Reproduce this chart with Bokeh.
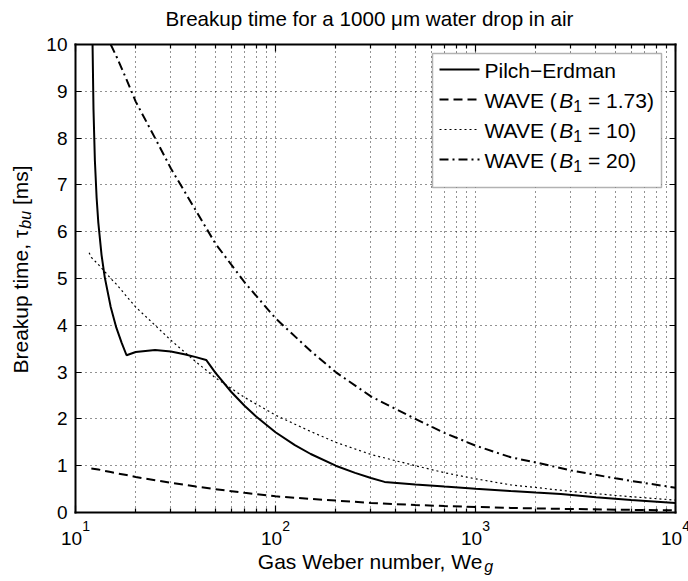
import math
from bokeh.plotting import figure
from bokeh.models import (FixedTicker, LogAxis, LinearAxis, Label, BoxAnnotation,
                          CustomJSTickFormatter, Range1d)
from bokeh.embed import file_html
from bokeh.resources import INLINE

FONT = "Liberation Sans"

# ---------------- texts ----------------
TITLE = "Breakup time for a 1000 μm water drop in air"
X_LABEL = "Gas Weber number, We"
X_LABEL_SUB = "g"
Y_LABEL_MAIN = "Breakup time, τ"
Y_LABEL_SUB = "bu"
Y_LABEL_END = "[ms]"

# ---------------- ticks ----------------
x_major_ticks = [10, 100, 1000, 10000]
x_tick_base = "10"
x_tick_exponents = ["1", "2", "3", "4"]
x_minor_ticks = [20, 30, 40, 50, 60, 70, 80, 90,
                 200, 300, 400, 500, 600, 700, 800, 900,
                 2000, 3000, 4000, 5000, 6000, 7000, 8000, 9000]
y_ticks = [0, 1, 2, 3, 4, 5, 6, 7, 8, 9, 10]

# ---------------- data ----------------
# Pilch-Erdman correlation
we_pe = [12.17, 12.3, 12.5, 12.75, 13, 13.5, 14, 15, 16, 17, 18, 20, 25, 30,
         35, 40, 45, 50, 60, 70, 80, 100, 125, 150, 200, 250, 300, 351, 500, 700,
         1000, 1500, 2000, 2670, 4000, 6000, 10000]
t_pe = [10.0, 8.62, 7.52, 6.73, 6.20, 5.50, 5.03, 4.39, 3.95, 3.63, 3.36, 3.43,
        3.47, 3.44, 3.38, 3.32, 3.26, 2.99, 2.58, 2.28, 2.05, 1.715, 1.44, 1.25, 1.00,
        0.846, 0.737, 0.654, 0.60, 0.553, 0.506, 0.458, 0.426, 0.397, 0.324, 0.265, 0.205]

# WAVE model, B1 = 1.73
we_b173 = [12, 13, 14, 15, 16, 18, 20, 25, 30, 40, 50, 70, 100, 150, 200, 300, 500,
           700, 1000, 1500, 2000, 3000, 5000, 7000, 10000]
t_b173 = [0.94, 0.92, 0.89, 0.865, 0.84, 0.80, 0.76, 0.69, 0.635, 0.555, 0.50, 0.42,
          0.345, 0.29, 0.255, 0.205, 0.16, 0.138, 0.118, 0.098, 0.088, 0.075, 0.061,
          0.053, 0.045]
# WAVE model, B1 = 10
we_b10 = [11.7, 12, 13, 14, 15, 16, 18, 20, 25, 30, 40, 50, 70, 100, 150, 200, 300, 500,
          700, 1000, 1500, 2000, 3000, 5000, 7000, 10000]
t_b10 = [5.55, 5.45, 5.3, 5.15, 5.0, 4.88, 4.62, 4.39, 4.0, 3.68, 3.22, 2.88, 2.46, 2.08,
         1.73, 1.5, 1.24, 1.0, 0.85, 0.72, 0.59, 0.535, 0.45, 0.365, 0.315, 0.265]
# WAVE model, B1 = 20
we_b20 = [15, 16, 18, 20, 25, 30, 40, 50, 70, 100, 150, 200, 300, 500,
          700, 1000, 1500, 2000, 3000, 5000, 7000, 10000]
t_b20 = [10.0, 9.75, 9.25, 8.78, 8.0, 7.35, 6.45, 5.75, 4.92, 4.15,
         3.45, 3.0, 2.48, 2.0, 1.7, 1.43, 1.18, 1.07, 0.90, 0.73, 0.63, 0.53]

# legend entries: (prefix, italic symbol, subscript, suffix)
legend_entries = [
    ("Pilch−Erdman", "", "", ""),
    ("WAVE (", "B", "1", "= 1.73)"),
    ("WAVE (", "B", "1", "= 10)"),
    ("WAVE (", "B", "1", "= 20)"),
]
legend_dashes = ["solid", "9 5", "2 3", "9 4 2 4"]
legend_widths = [2, 2, 1.2, 2]

# ---------------- geometry (pixels) ----------------
W, H = 688, 581
BL, BT, BW, BH = 75, 44, 600, 468          # axes box inside the canvas
X0, X1 = 10, 10000
Y0, Y1 = 0, 10
LX0, LX1 = math.log10(X0), math.log10(X1)
XPX = (LX1 - LX0) / BW                      # decades per pixel
YPX = (Y1 - Y0) / BH                        # units per pixel
BASE_FIX = 7                                # baseline correction of Label text (px)

# Arial / Liberation Sans advance widths (per 1000 em)
ADV = {' ': 278, '(': 333, ')': 333, '=': 584, '.': 278, ',': 278, '[': 278, ']': 278,
       '−': 584, 'A': 667, 'B': 667, 'E': 667, 'G': 778, 'P': 667, 'V': 667, 'W': 944,
       'a': 556, 'b': 556, 'c': 500, 'd': 556, 'e': 556, 'g': 556, 'h': 556, 'i': 222,
       'k': 500, 'l': 222, 'm': 833, 'n': 556, 'o': 556, 'p': 556, 'r': 333, 's': 500,
       't': 278, 'u': 556, 'τ': 450, 'μ': 576}


def tw(s, size):
    return sum(ADV.get(c, 556) for c in s) * size / 1000.0


def dx(px):
    """pixel offset from the left edge of the axes box -> data x"""
    return 10 ** (LX0 + XPX * px)


def dy(py):
    """pixel offset from the top edge of the axes box -> data y"""
    return Y1 - YPX * py


x_range = Range1d(dx(-BL), dx(W - BL))
y_range = Range1d(dy(H - BT), dy(-BT))

p = figure(width=W, height=H, x_axis_type="log", x_range=x_range, y_range=y_range,
           output_backend="svg", toolbar_location=None,
           min_border_left=0, min_border_right=0, min_border_top=0, min_border_bottom=0)
p.background_fill_color = "white"
p.border_fill_color = "white"
p.outline_line_color = None

xt = FixedTicker(ticks=x_major_ticks, minor_ticks=x_minor_ticks)
yt = FixedTicker(ticks=y_ticks)

bottom = p.below[0]
left = p.left[0]
top = LogAxis()
right = LinearAxis()
p.add_layout(top, "above")
p.add_layout(right, "right")

for ax, loc in [(bottom, Y0), (top, Y1)]:
    ax.ticker = xt
    ax.fixed_location = loc
    ax.bounds = (X0, X1)
    ax.formatter = CustomJSTickFormatter(code="return ''")
    ax.major_label_text_font_size = "0px"
    ax.major_tick_in = 7
    ax.major_tick_out = 0
    ax.minor_tick_in = 4
    ax.minor_tick_out = 0
for ax, loc in [(left, X0), (right, X1)]:
    ax.ticker = yt
    ax.fixed_location = loc
    ax.bounds = (Y0, Y1)
    ax.major_tick_in = 6
    ax.major_tick_out = 0
    ax.minor_tick_in = 0
    ax.minor_tick_out = 0
right.formatter = CustomJSTickFormatter(code="return ''")
right.major_label_text_font_size = "0px"
left.major_label_text_font = FONT
left.major_label_text_font_size = "19px"
left.major_label_text_color = "black"
left.major_label_standoff = 8

for ax in [bottom, top, left, right]:
    ax.axis_line_color = "black"
    ax.axis_line_width = 2
    ax.axis_line_cap = "square"
    ax.major_tick_line_color = "black"
    ax.major_tick_line_width = 1.2
    ax.minor_tick_line_color = "black"
    ax.minor_tick_line_width = 1.2
    ax.axis_label = None

xg, yg = p.xgrid[0], p.ygrid[0]
xg.ticker = xt
yg.ticker = yt
GRID_DASH = "1 4"
if "cross_bounds" in xg.properties():
    xg.bounds = (X0, X1)
    xg.cross_bounds = (Y0, Y1)
    yg.bounds = (Y0, Y1)
    yg.cross_bounds = (X0, X1)
    for g in (xg, yg):
        g.grid_line_color = "black"
        g.grid_line_alpha = 0.85
        g.grid_line_dash = GRID_DASH
        g.grid_line_width = 1
    xg.minor_grid_line_color = "black"
    xg.minor_grid_line_alpha = 0.85
    xg.minor_grid_line_dash = GRID_DASH
    xg.minor_grid_line_width = 1
else:
    xg.visible = False
    yg.visible = False
    gx = x_major_ticks + x_minor_ticks
    p.segment(x0=gx, x1=gx, y0=[Y0] * len(gx), y1=[Y1] * len(gx), line_color="black",
              line_alpha=0.85, line_dash=GRID_DASH, line_width=1, level="underlay")
    p.segment(x0=[X0] * len(y_ticks), x1=[X1] * len(y_ticks), y0=y_ticks, y1=y_ticks,
              line_color="black", line_alpha=0.85, line_dash=GRID_DASH, line_width=1,
              level="underlay")

# ---------------- curves ----------------
p.line(we_pe, t_pe, line_color="black", line_width=2)
p.line(we_b173, t_b173, line_color="black", line_width=2, line_dash=legend_dashes[1])
p.line(we_b10, t_b10, line_color="black", line_width=legend_widths[2],
       line_dash=legend_dashes[2])
p.line(we_b20, t_b20, line_color="black", line_width=2, line_dash=legend_dashes[3])


def lab(x, y, text, size, xo=0.0, yo=0.0, style="normal", angle=0.0, align="left"):
    if angle:
        xo -= BASE_FIX
    else:
        yo += BASE_FIX
    p.add_layout(Label(x=x, y=y, x_offset=xo, y_offset=yo, text=text, text_font=FONT,
                       text_font_size=f"{size}px", text_font_style=style, angle=angle,
                       text_align=align, text_baseline="alphabetic", text_color="black"))


# ---------------- title ----------------
lab(dx(294), dy(-19), TITLE, 20.6, align="center")

# ---------------- legend ----------------
BOX_L, BOX_R, BOX_T, BOX_B = 357, 586, 9, 143
p.add_layout(BoxAnnotation(left=dx(BOX_L), right=dx(BOX_R), top=dy(BOX_T), bottom=dy(BOX_B),
                           fill_color="white", fill_alpha=1.0, line_color="black",
                           line_width=1.5, level="underlay"))
LF, LS = 21, 16
ROW0, ROWSTEP = 25, 30
for i, (pre, sym, sub, suf) in enumerate(legend_entries):
    cy = ROW0 + i * ROWSTEP
    p.line([dx(364), dx(404)], [dy(cy), dy(cy)], line_color="black",
           line_width=legend_widths[i], line_dash=legend_dashes[i])
    bx, by = dx(409), dy(cy + 7.5)
    off = 0.0
    lab(bx, by, pre, LF, xo=off)
    off += tw(pre, LF)
    if sym:
        lab(bx, by, sym, LF, xo=off, style="italic")
        off += tw(sym, LF)
        lab(bx, by, sub, LS, xo=off, yo=-6)
        off += tw(sub, LS) + tw(" ", LF)
        lab(bx, by, suf, LF, xo=off)

# ---------------- x tick labels (10^n) ----------------
for tick, ex in zip(x_major_ticks, x_tick_exponents):
    wb, we_ = tw(x_tick_base, 19), tw(ex, 14)
    start = -(wb + we_) / 2
    lab(tick, Y0, x_tick_base, 19, xo=start, yo=-33)
    lab(tick, Y0, ex, 14, xo=start + wb, yo=-20)

# ---------------- x axis label ----------------
XF, XS = 21, 16
w_main, w_sub = tw(X_LABEL, XF), tw(X_LABEL_SUB, XS)
xs = -(w_main + w_sub) / 2
lab(dx(BW / 2), dy(BH + 56), X_LABEL, XF, xo=xs)
lab(dx(BW / 2), dy(BH + 56), X_LABEL_SUB, XS, xo=xs + w_main, yo=-5, style="italic")

# ---------------- y axis label (rotated, reads bottom to top) ----------------
YF, YS = 21, 16
ang = math.pi / 2
w1, w2, wsp = tw(Y_LABEL_MAIN, YF), tw(Y_LABEL_SUB, YS), tw(" ", YF)
ybx, yby = dx(-48), dy(329)
lab(ybx, yby, Y_LABEL_MAIN, YF, angle=ang)
lab(ybx, yby, Y_LABEL_SUB, YS, xo=5, yo=w1, angle=ang, style="italic")
lab(ybx, yby, Y_LABEL_END, YF, yo=w1 + w2 + wsp, angle=ang)

open("out.html", "w").write(file_html(p, INLINE))
